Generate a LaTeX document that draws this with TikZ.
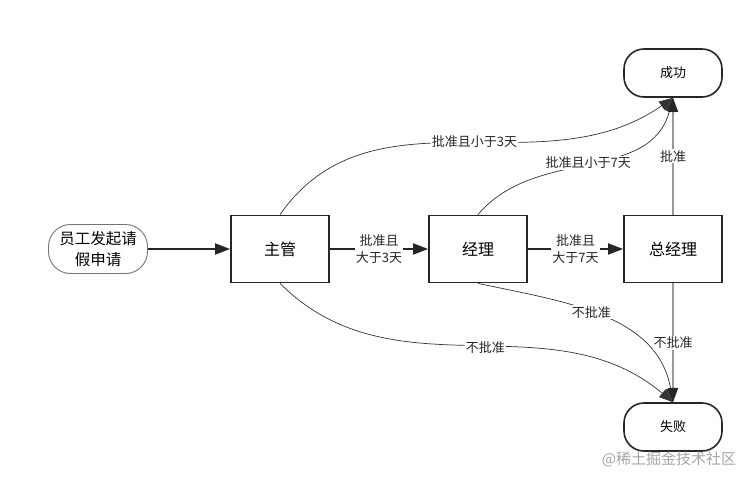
\documentclass[tikz,border=0pt]{standalone}
\usepackage{fontspec}
\newfontfamily\cjk{Noto Sans CJK SC}
\usepackage{tikz}
\usetikzlibrary{arrows.meta, positioning}
\tikzset{
    proc/.style={draw=black!85, line width=1.8pt, minimum width=98pt, minimum height=67pt, font=\cjk\fontsize{16}{19}\selectfont},
    term/.style={draw=black!85, line width=1.6pt, rounded corners=20pt, minimum width=98pt, minimum height=48pt, font=\cjk\fontsize{13}{15}\selectfont},
    start_term/.style={draw=black!55, line width=0.9pt, rounded corners=22pt, minimum width=99pt, minimum height=49pt, align=center, font=\cjk\fontsize{15.5}{21}\selectfont},
    main_flow/.style={-{Triangle[length=15pt,width=11pt]}, line width=1.8pt, draw=black!85},
    curve_flow/.style={-{Triangle[length=14pt,width=10pt]}, line width=0.7pt, draw=black!80},
    gray_flow/.style={-{Triangle[length=14pt,width=10pt,color=black!85]}, line width=1.6pt, draw=black!40},
    edge_label/.style={fill=white, inner sep=1pt, align=center, text=black!85, font=\cjk\fontsize{13}{17}\selectfont}
}

\begin{document}
\begin{tikzpicture}[x=1pt, y=1pt]
    \useasboundingbox (0,0) rectangle (755,483);
    % start and decision boxes
    \node[start_term] (apply) at (98,234) {员工发起请\\假申请};
    \node[proc] (sup) at (280,234) {主管};
    \node[proc] (mgr) at (478,234) {经理};
    \node[proc] (gm) at (673,234) {总经理};
    % end states
    \node[term] (ok) at (673,410) {成功};
    \node[term] (fail) at (673,56) {失败};
    % main line
    \draw[main_flow] (apply) -- (sup);
    \draw[main_flow] (sup) -- node[edge_label] {批准且\\大于3天} (mgr);
    \draw[main_flow] (mgr) -- node[edge_label] {批准且\\大于7天} (gm);
    % approved
    \draw[curve_flow] (sup.north) to[out=55, in=215] node[edge_label, pos=0.53] {批准且小于3天} (ok.south);
    \draw[curve_flow] (mgr.north) to[out=50, in=255] node[edge_label, pos=0.5] {批准且小于7天} (ok.south);
    \draw[gray_flow] (gm) -- node[edge_label] {批准} (ok);
    % rejected
    \draw[curve_flow] (sup.south) to[out=-45, in=140] node[edge_label, pos=0.53] {不批准} (fail.north);
    \draw[curve_flow] (mgr.south) to[out=-12, in=100] node[edge_label, pos=0.45] {不批准} (fail.north);
    \draw[gray_flow] (gm) -- node[edge_label] {不批准} (fail);
    % watermark
    \node[text=black!35, font=\cjk\fontsize{15}{17}\selectfont] (mark) at (669,24) {@稀土掘金技术社区};
\end{tikzpicture}
\end{document}
